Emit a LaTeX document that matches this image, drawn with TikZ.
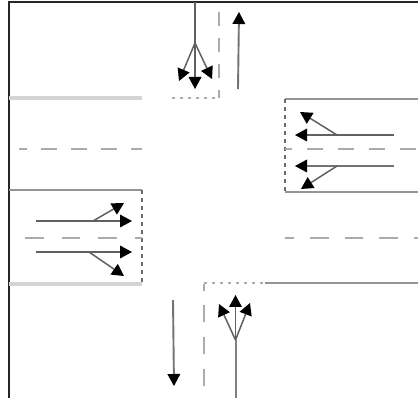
\documentclass[tikz,border=0pt]{standalone}
\usetikzlibrary{arrows.meta}
\tikzset{
  frameline/.style={line width=1.4pt,draw=black!85},
  heavyedge/.style={line width=3.4pt,draw=black!17},
  edgeline/.style={line width=1.6pt,draw=black!42},
  laneline/.style={line width=1.6pt,draw=black!33},
  stopline/.style={line width=1.3pt,draw=black!58,dash pattern=on 4pt off 4pt},
  dotline/.style={line width=1.5pt,draw=black!32,dash pattern=on 3pt off 5pt},
  mainarrow/.style={line width=1.9pt,draw=black!55,-{Triangle[length=12pt,width=13pt,fill=black,line width=0pt]}},
  turnarrow/.style={line width=1.5pt,draw=black!62,-{Triangle[length=12pt,width=13pt,fill=black,line width=0pt]}}
}
\begin{document}
\begin{tikzpicture}[x=1pt,y=-1pt]
\useasboundingbox (0,0) rectangle (418,398);
% frame
\coordinate (fa) at (418,2); \coordinate (fb) at (9,2); \coordinate (fc) at (9,398);
\draw[frameline] (fa) -- (fb) -- (fc);
% corners and edges
\draw[heavyedge] (9,98) -- (142,98);
\draw[laneline,dash pattern=on 16pt off 14pt,dash phase=8pt] (19,149) -- (142,149);
\draw[edgeline] (9,190) -- (142,190);
\draw[stopline] (142,190) -- (142,284);
\draw[heavyedge] (9,284) -- (142,284);
\draw[laneline,dash pattern=on 18.5pt off 18pt] (25,238) -- (142,238);
\draw[edgeline] (418,99) -- (285,99);
\draw[stopline] (285,99) -- (285,192);
\draw[edgeline] (285,192) -- (418,192);
\draw[laneline,dash pattern=on 16pt off 15pt,dash phase=9pt] (285,149) -- (418,149);
\draw[laneline,dash pattern=on 18.5pt off 16pt,dash phase=9.5pt] (285,238) -- (418,238);
\draw[dotline] (172,98) -- (219,98);
\draw[laneline,dash pattern=on 14pt off 12pt,dash phase=6pt] (219,98) -- (219,12);
\draw[dotline] (204,283) -- (265,283);
\draw[edgeline] (265,283) -- (418,283);
\draw[laneline,dash pattern=on 17pt off 14.5pt,dash phase=10pt] (204,284) -- (204,388);
% north approach
\coordinate (na) at (195,2); \coordinate (nb) at (195,43);
\coordinate (nl) at (179,81); \coordinate (nc) at (195,89); \coordinate (nr) at (212,79);
\draw[line width=2pt,draw=black!62] (na) -- (nb);
\draw[turnarrow] (nb) -- (nl);
\draw[turnarrow] (nb) -- (nc);
\draw[turnarrow] (nb) -- (nr);
\coordinate (ua) at (238,89); \coordinate (ub) at (239,12);
\draw[mainarrow] (ua) -- (ub);
% east approach
\coordinate (e1) at (394,135); \coordinate (e1b) at (337,135);
\coordinate (e1t) at (295,135); \coordinate (e1l) at (300,112);
\draw[turnarrow] (e1) -- (e1t);
\draw[turnarrow] (e1b) -- (e1l);
\coordinate (e2) at (394,166); \coordinate (e2b) at (337,166);
\coordinate (e2t) at (295,166); \coordinate (e2l) at (301,189);
\draw[mainarrow] (e2) -- (e2t);
\draw[turnarrow] (e2b) -- (e2l);
% west approach
\coordinate (w1) at (36,221); \coordinate (w1b) at (93,221);
\coordinate (w1t) at (132,221); \coordinate (w1l) at (124,203);
\draw[turnarrow] (w1) -- (w1t);
\draw[turnarrow] (w1b) -- (w1l);
\coordinate (w2) at (36,252); \coordinate (w2b) at (89,252);
\coordinate (w2t) at (132,252); \coordinate (w2l) at (124,276);
\draw[turnarrow] (w2) -- (w2t);
\draw[turnarrow] (w2b) -- (w2l);
% south approach
\coordinate (da) at (173,300); \coordinate (db) at (174,386);
\draw[mainarrow] (da) -- (db);
\coordinate (sa) at (235.5,398); \coordinate (sb) at (235.5,340);
\coordinate (sl) at (219,304); \coordinate (sc) at (235.5,295); \coordinate (sr) at (250,303);
\draw[line width=2pt,draw=black!50] (sa) -- (sb);
\draw[turnarrow] (sb) -- (sl);
\draw[turnarrow] (sb) -- (sc);
\draw[turnarrow] (sb) -- (sr);
\end{tikzpicture}
\end{document}
